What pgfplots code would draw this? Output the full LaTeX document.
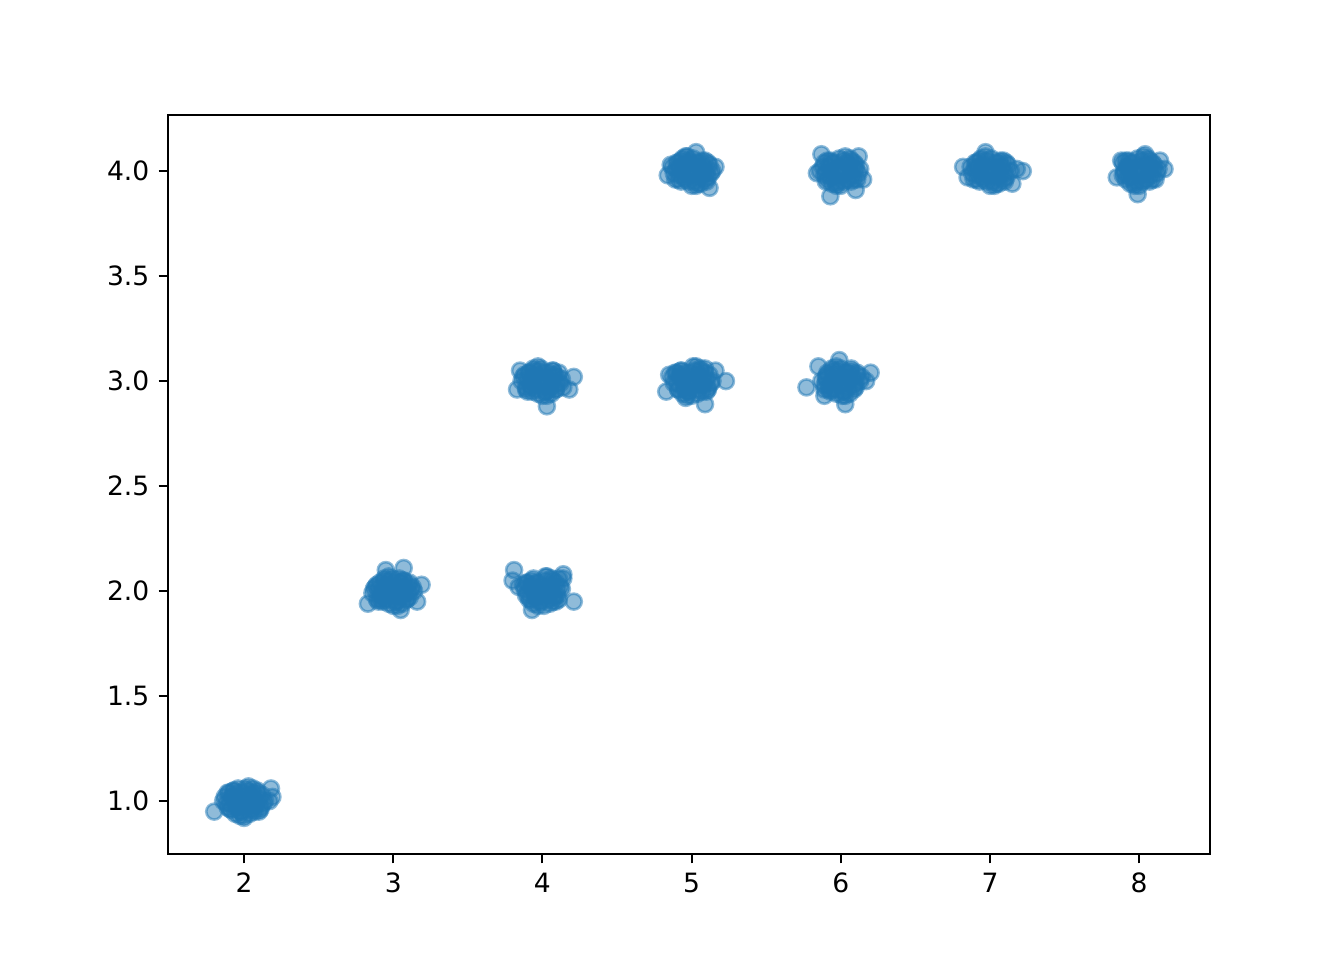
\documentclass[border=0pt]{standalone}
\usepackage{pgfplots}
\pgfplotsset{compat=1.18}
\usepackage{fontspec}
\setmainfont{DejaVu Sans}
\definecolor{mplblue}{HTML}{1F77B4}
\pgfplotstableread{
x y
2.03 1.01
1.92 1.02
2.11 0.97
1.98 0.95
2.06 1.04
1.88 0.99
2.09 1.05
1.95 0.97
2.01 1.06
2.14 1.00
1.90 1.04
2.04 0.94
1.93 1.05
2.12 1.03
1.97 1.00
2.07 0.98
1.87 1.02
2.00 0.93
2.10 0.95
1.91 0.96
2.05 1.02
1.99 1.04
2.08 1.00
1.94 1.01
2.13 0.99
1.89 0.97
2.02 0.98
1.96 1.06
2.06 0.96
1.86 1.00
1.80 0.95
2.18 1.06
2.19 1.02
2.00 0.92
2.17 1.00
2.96 2.02
3.08 1.99
2.89 2.03
3.02 1.95
2.94 2.05
3.12 2.01
2.91 1.96
3.05 2.04
2.99 2.06
2.86 1.99
3.10 2.03
2.97 1.94
3.07 2.05
2.88 2.02
3.03 2.00
2.93 1.97
3.13 2.02
3.00 1.93
2.90 1.95
3.09 1.96
2.95 2.01
3.01 2.04
2.92 2.00
3.06 1.98
2.87 2.01
3.11 1.97
2.98 1.98
3.04 2.06
2.94 1.96
3.14 2.00
3.07 2.11
2.95 2.10
3.19 2.03
3.05 1.91
2.83 1.94
3.16 1.95
4.03 2.00
3.93 2.03
4.10 1.98
3.99 1.95
4.07 2.05
3.88 2.01
4.11 2.06
3.96 1.97
4.02 2.07
4.13 2.01
3.90 2.04
4.05 1.94
3.94 2.06
4.12 2.02
3.98 2.00
4.08 1.97
3.87 2.03
4.01 1.93
4.09 1.95
3.92 1.96
4.04 2.02
3.97 2.04
4.06 2.00
3.95 1.99
4.14 2.06
3.89 1.98
3.81 2.10
3.80 2.05
4.21 1.95
3.93 1.91
4.14 2.08
3.84 2.02
3.97 3.01
4.08 3.03
3.89 2.97
4.02 2.95
3.94 3.05
4.12 2.99
3.91 3.04
4.05 2.96
3.99 3.06
3.86 3.00
4.10 3.02
3.97 2.94
4.07 3.05
3.88 3.03
4.03 3.00
3.93 2.97
4.13 3.01
4.00 2.93
3.90 2.95
4.09 2.96
3.95 3.02
4.01 3.04
3.92 3.00
4.06 2.98
4.14 2.97
3.87 3.02
4.21 3.02
4.03 2.88
3.83 2.96
4.18 2.96
3.85 3.05
5.03 3.01
4.92 3.03
5.11 2.97
4.98 2.95
5.06 3.05
4.88 2.99
5.09 3.06
4.95 2.96
5.01 3.07
5.14 3.00
4.90 3.04
5.04 2.94
4.93 3.05
5.12 3.03
4.97 3.00
5.07 2.98
4.87 3.02
5.00 2.93
5.10 2.95
4.91 2.96
5.05 3.02
4.99 3.04
5.08 3.00
4.94 3.01
5.13 2.99
5.23 3.00
4.83 2.95
5.09 2.89
4.85 3.03
5.16 3.05
4.96 2.92
5.98 3.01
6.09 2.98
5.91 3.03
6.02 2.95
5.95 3.05
6.13 3.00
5.89 2.98
6.06 3.04
6.00 3.06
5.87 3.00
6.11 3.03
5.97 2.94
6.07 3.06
5.90 3.02
6.04 2.99
5.94 2.96
6.14 3.02
6.01 2.93
5.92 2.96
6.10 2.97
5.96 3.01
6.03 3.04
5.77 2.97
6.03 2.89
6.20 3.04
5.85 3.07
5.99 3.10
6.17 3.00
5.89 2.93
5.03 4.01
4.92 4.02
5.11 3.97
4.98 3.95
5.06 4.04
4.88 3.99
5.09 4.05
4.95 3.97
5.01 4.06
5.14 4.00
4.90 4.04
5.04 3.94
4.93 4.05
5.12 4.03
4.97 4.00
5.07 3.98
4.87 4.02
5.00 3.93
5.10 3.95
4.91 3.96
5.05 4.02
4.99 4.04
5.08 4.00
4.94 4.01
5.13 3.99
5.03 4.09
5.16 4.02
4.84 3.98
5.12 3.92
4.86 4.03
4.96 4.07
5.97 4.01
6.08 4.02
5.89 3.98
6.02 3.95
5.94 4.04
6.12 3.99
5.91 4.05
6.05 3.96
5.99 4.06
5.86 4.00
6.10 4.03
5.97 3.94
6.07 4.05
5.88 4.02
6.03 4.00
5.93 3.97
6.13 4.01
6.00 3.93
5.90 3.95
6.09 3.96
6.04 4.04
5.87 4.08
5.93 3.88
6.10 3.91
6.15 3.96
6.12 4.07
5.84 3.99
7.03 4.01
6.92 4.02
7.11 3.97
6.98 3.95
7.06 4.04
6.88 3.99
7.09 4.05
6.95 3.97
7.01 4.06
7.14 4.00
6.90 4.04
7.04 3.94
6.93 4.05
7.12 4.03
6.97 4.00
7.07 3.98
6.87 4.02
7.00 3.93
7.10 3.95
6.91 3.96
7.05 4.02
6.82 4.02
7.22 4.00
6.97 4.09
7.15 3.94
7.18 4.01
6.85 3.97
7.97 4.01
8.08 4.02
7.89 3.98
8.02 3.95
7.94 4.04
8.12 3.99
7.91 4.05
8.05 3.96
7.99 4.06
7.90 4.00
8.10 4.03
7.97 3.94
8.07 4.05
7.92 4.02
8.03 4.00
7.93 3.97
8.13 4.01
8.00 3.93
8.09 3.96
7.85 3.97
7.88 4.05
7.99 3.89
8.17 4.01
8.14 4.05
8.04 4.08
}\outer
\pgfplotstableread{
x y
2.00 1.00
2.05 1.03
1.95 0.97
2.08 0.98
1.92 1.02
2.02 1.05
1.98 0.95
2.06 1.06
1.94 0.94
2.10 1.01
1.90 0.99
2.04 0.96
1.96 1.04
2.09 1.04
1.91 0.96
2.01 0.98
1.99 1.02
2.07 0.95
1.93 1.05
2.03 1.07
1.97 0.93
2.11 0.96
1.89 1.04
2.06 1.00
1.94 1.00
3.00 2.00
3.05 1.97
2.95 2.03
3.08 2.02
2.92 1.98
3.02 1.95
2.98 2.05
3.06 1.94
2.94 2.06
3.10 1.99
2.90 2.01
3.04 2.04
2.96 1.96
3.09 1.96
2.91 2.04
3.01 2.02
2.99 1.98
3.07 2.05
2.93 1.95
3.03 1.93
2.97 2.07
3.11 2.04
2.89 1.96
3.06 2.00
2.94 2.00
4.00 2.00
4.05 2.03
3.95 1.97
4.08 1.98
3.92 2.02
4.02 2.05
3.98 1.95
4.06 2.06
3.94 1.94
4.10 2.01
3.90 1.99
4.04 1.96
3.96 2.04
4.09 2.04
3.91 1.96
4.01 1.98
3.99 2.02
4.07 1.95
3.93 2.05
4.03 2.07
3.97 1.93
4.11 1.96
3.89 2.04
4.06 2.00
3.94 2.00
4.00 3.00
4.05 2.97
3.95 3.03
4.08 3.02
3.92 2.98
4.02 2.95
3.98 3.05
4.06 2.94
3.94 3.06
4.10 2.99
3.90 3.01
4.04 3.04
3.96 2.96
4.09 2.96
3.91 3.04
4.01 3.02
3.99 2.98
4.07 3.05
3.93 2.95
4.03 2.93
3.97 3.07
4.11 3.04
3.89 2.96
4.06 3.00
3.94 3.00
5.00 3.00
5.05 3.03
4.95 2.97
5.08 2.98
4.92 3.02
5.02 3.05
4.98 2.95
5.06 3.06
4.94 2.94
5.10 3.01
4.90 2.99
5.04 2.96
4.96 3.04
5.09 3.04
4.91 2.96
5.01 2.98
4.99 3.02
5.07 2.95
4.93 3.05
5.03 3.07
4.97 2.93
5.11 2.96
4.89 3.04
5.06 3.00
4.94 3.00
6.00 3.00
6.05 2.97
5.95 3.03
6.08 3.02
5.92 2.98
6.02 2.95
5.98 3.05
6.06 2.94
5.94 3.06
6.10 2.99
5.90 3.01
6.04 3.04
5.96 2.96
6.09 2.96
5.91 3.04
6.01 3.02
5.99 2.98
6.07 3.05
5.93 2.95
6.03 2.93
5.97 3.07
6.11 3.04
5.89 2.96
6.06 3.00
5.94 3.00
5.00 4.00
5.05 3.97
4.95 4.03
5.08 4.02
4.92 3.98
5.02 3.95
4.98 4.05
5.06 3.94
4.94 4.06
5.10 3.99
4.90 4.01
5.04 4.04
4.96 3.96
5.09 3.96
4.91 4.04
5.01 4.02
4.99 3.98
5.07 4.05
4.93 3.95
5.03 3.93
4.97 4.07
5.11 4.04
4.89 3.96
5.06 4.00
4.94 4.00
6.00 4.00
6.05 4.03
5.95 3.97
6.08 3.98
5.92 4.02
6.02 4.05
5.98 3.95
6.06 4.06
5.94 3.94
6.10 4.01
5.90 3.99
6.04 3.96
5.96 4.04
6.09 4.04
5.91 3.96
6.01 3.98
5.99 4.02
6.07 3.95
5.93 4.05
6.03 4.07
5.97 3.93
6.11 3.96
5.89 4.04
6.06 4.00
5.94 4.00
7.00 4.00
7.05 3.97
6.95 4.03
7.08 4.02
6.92 3.98
7.02 3.95
6.98 4.05
7.06 3.94
6.94 4.06
7.10 3.99
6.90 4.01
7.04 4.04
6.96 3.96
7.09 3.96
6.91 4.04
7.01 4.02
6.99 3.98
7.07 4.05
6.93 3.95
7.03 3.93
6.97 4.07
7.11 4.04
6.89 3.96
7.06 4.00
6.94 4.00
8.00 4.00
8.05 4.03
7.95 3.97
8.08 3.98
7.92 4.02
8.02 4.05
7.98 3.95
8.06 4.06
7.94 3.94
8.10 4.01
7.90 3.99
8.04 3.96
7.96 4.04
8.09 4.04
7.91 3.96
8.01 3.98
7.99 4.02
8.07 3.95
7.93 4.05
8.03 4.07
7.97 3.93
8.11 3.96
7.89 4.04
8.06 4.00
7.94 4.00
}\core
\begin{document}
\begin{tikzpicture}
\begin{axis}[
  at={(0,0)}, anchor=south west,
  scale only axis, width=5.427in, height=3.849in,
  xmin=1.49, xmax=8.475, ymin=0.748, ymax=4.267,
  xtick={2,3,4,5,6,7,8},
  ytick={1.0,1.5,2.0,2.5,3.0,3.5,4.0},
  yticklabel style={/pgf/number format/.cd,fixed,fixed zerofill,precision=1},
  /pgf/number format/assume math mode=true,
  tick align=outside, tick pos=left,
  major tick length=3.5pt,
  tick style={black, line width=0.8pt},
  axis line style={line width=0.8pt},
  ticklabel style={font=\fontsize{10}{12}\selectfont},
]
\addplot[only marks, mark=*, mark size=3pt, mark options={fill=mplblue, draw=mplblue, line width=1pt, opacity=0.5}] table {\outer};
\addplot[only marks, mark=*, mark size=3pt, mark options={fill=mplblue, draw=mplblue, line width=1pt, opacity=0.5}] table {\core};
\end{axis}
\useasboundingbox (-0.875in,-0.552in) rectangle (6.125in,4.448in);
\end{tikzpicture}
\end{document}
